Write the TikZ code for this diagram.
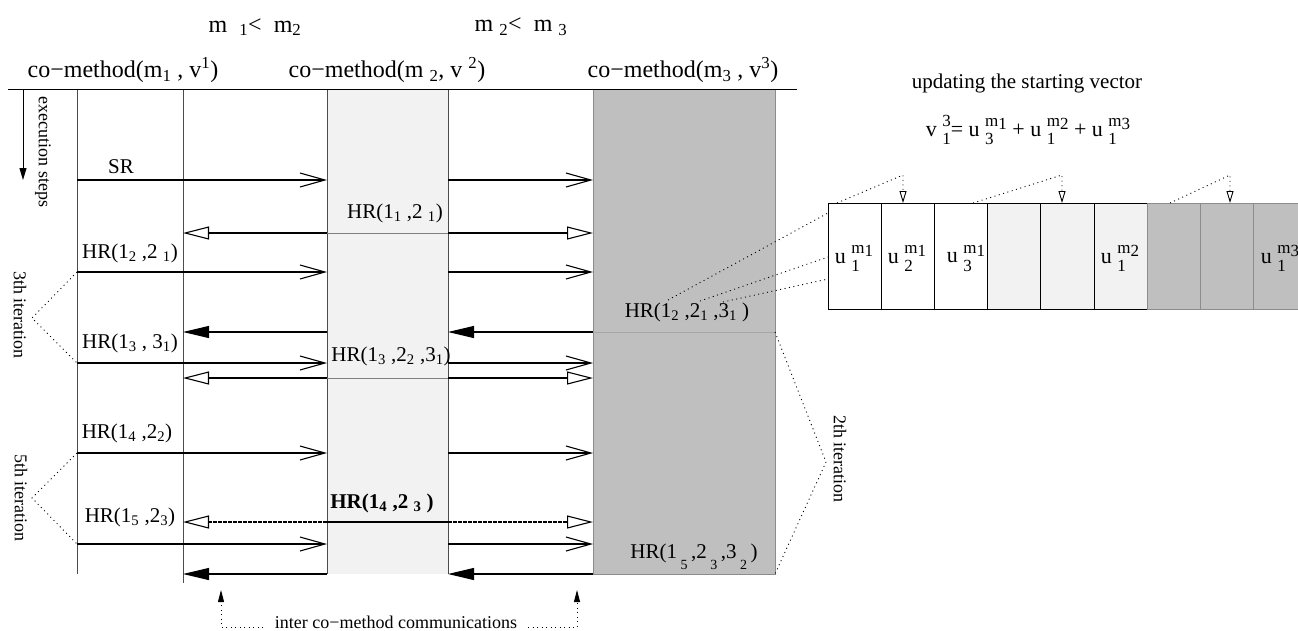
\documentclass[tikz,border=0pt]{standalone}
\usepackage{fontspec}
\setmainfont{Liberation Serif}
\usetikzlibrary{arrows.meta}
\newcommand{\lw}[1]{\textsubscript{#1}}
\newcommand{\hg}[1]{\textsuperscript{#1}}
\newcommand{\sml}{\fontsize{14}{14}\selectfont}
\newcommand{\smc}{\fontsize{17}{17}\selectfont}
\newcommand{\us}[2]{\ \rlap{\raisebox{-0.8ex}{\smc #1}}\raisebox{0.95ex}{\smc #2}}
\newcommand{\mi}[1]{m\raisebox{-0.35ex}{#1}}
\newcommand{\dlw}[1]{\,\raisebox{-1.1ex}{\sml #1}\,}

\begin{document}
\begin{tikzpicture}[x=1pt, y=-1pt,
    lbl/.style = {font=\fontsize{21}{24}\selectfont, inner sep=0pt},
    hdr/.style = {font=\fontsize{24}{27}\selectfont, inner sep=0pt},
    cel/.style = {font=\fontsize{22}{25}\selectfont, inner sep=0pt},
    note/.style = {font=\fontsize{18}{21}\selectfont, inner sep=0pt},
    grid/.style = {draw=black!70, line width=0.8pt},
    barb/.style = {-{Straight Barb[length=25pt, width=14pt]}, line width=1.1pt},
    opn/.style = {-{Triangle[open, length=26pt, width=13pt]}, line width=1.1pt},
    ful/.style = {-{Triangle[length=26pt, width=12pt]}, line width=1.1pt},
    dots/.style = {dash pattern=on 1pt off 3.5pt, line width=0.9pt}]
    \useasboundingbox (0,0) rectangle (1298,630);
    \def\xa{77} \def\xb{183} \def\xc{327} \def\xd{448} \def\xe{593} \def\xf{775}
    \def\yt{89} \def\yb{574}

    \fill[gray!10] (\xc,\yt) rectangle (\xd,\yb);
    \fill[gray!50] (\xe,\yt) rectangle (\xf,\yb);
    \draw[draw=gray!90] (\xe,\yt) rectangle (\xf,\yb);
    \draw[grid] (\xa,\yt) -- (\xa,\yb);
    \draw[grid] (\xb,\yt) -- (\xb,583);
    \draw[grid] (\xc,\yt) -- (\xc,\yb);
    \draw[grid] (\xd,\yt) -- (\xd,\yb);
    \draw[line width=0.9pt] (8,\yt) -- (797,\yt);
    \draw[gray] (\xc,233) -- (\xd,233);
    \draw[gray] (\xc,378) -- (\xd,378);
    \draw[gray!70] (\xe,332) -- (\xf,332);

    \node[hdr] (lt1) at (255,27) {m\ \ \lw{1}<\ \ m\lw{2}};
    \node[hdr] (lt2) at (521,27) {m\ \lw{2}<\ \ m\ \lw{3}};
    \node[hdr] (cm1) at (123,70) {co−method(m\lw{1} , v\hg{1})};
    \node[hdr] (cm2) at (387,70) {co−method(m\ \lw{2}, v\ \hg{2})};
    \node[hdr] (cm3) at (683,70) {co−method(m\lw{3} , v\hg{3})};

    \draw[-{Triangle[length=12pt, width=7pt]}, line width=1pt] (23,90) -- (23,180);
    \node[note, rotate=-90] (exec) at (43,152) {execution steps};

    \draw[barb] (\xa,180) -- (\xc,180); \draw[barb] (\xd,180) -- (\xe,180);
    \draw[opn] (\xc,233) -- (\xb,233); \draw[opn] (\xd,233) -- (\xe,233);
    \draw[barb] (\xa,272) -- (\xc,272); \draw[barb] (\xd,272) -- (\xe,272);
    \draw[ful] (\xc,332) -- (\xb,332); \draw[ful] (\xe,332) -- (\xd,332);
    \draw[barb] (\xa,363) -- (\xc,363); \draw[barb] (\xd,363) -- (\xe,363);
    \draw[opn] (\xc,378) -- (\xb,378); \draw[opn] (\xd,378) -- (\xe,378);
    \draw[barb] (\xa,453) -- (\xc,453); \draw[barb] (\xd,453) -- (\xe,453);
    \draw[opn, dash pattern=on 4pt off 1pt] (\xc,522) -- (\xb,522);
    \draw[line width=1.1pt] (\xc,522) -- (\xd,522);
    \draw[opn, dash pattern=on 4pt off 1pt] (\xd,522) -- (\xe,522);
    \draw[barb] (\xa,544) -- (\xc,544); \draw[barb] (\xd,544) -- (\xe,544);
    \draw[ful] (\xc,\yb) -- (\xb,\yb); \draw[ful] (\xe,\yb) -- (\xd,\yb);

    \node[lbl] (sr) at (121,167) {SR};
    \node[lbl] (hr1) at (395,213) {HR(1\lw{1} ,2\ \lw{1})};
    \node[lbl] (hr2) at (130,253) {HR(1\lw{2} ,2\ \lw{1})};
    \node[lbl] (hr3) at (687,312) {HR(1\lw{2} ,2\lw{1} ,3\lw{1} )};
    \node[lbl] (hr4) at (130,343) {HR(1\lw{3} , 3\lw{1})};
    \node[lbl] (hr5) at (391,356) {HR(1\lw{3} ,2\lw{2} ,3\lw{1})};
    \node[lbl] (hr6) at (127,433) {HR(1\lw{4} ,2\lw{2})};
    \node[lbl] (hr7) at (382,503) {\textbf{HR(1\lw{4} ,2\ \lw{3} )}};
    \node[lbl] (hr8) at (130,517) {HR(1\lw{5} ,2\lw{3})};
    \node[lbl] (hr9) at (694,557) {HR(1\dlw{5},2\dlw{3},3\dlw{2})};

    \draw[dots] (\xa,272) -- (32,318) -- (\xa,363);
    \node[note, rotate=-90] (it3) at (20,315) {3th iteration};
    \draw[dots] (\xa,453) -- (32,498) -- (\xa,544);
    \node[note, rotate=-90] (it5) at (21,498) {5th iteration};
    \draw[dots] (\xf,332) -- (826,462) -- (\xf,\yb);
    \node[note, rotate=-90] (it2) at (840,459) {2th iteration};

    \node[note] (comm) at (396,622) {inter co−method communications};
    \draw[dots, -{Triangle[length=12pt, width=6pt]}] (263,627) -- (221,627) -- (221,590);
    \draw[dots, -{Triangle[length=12pt, width=6pt]}] (528,627) -- (577,627) -- (577,590);

    \node[lbl] (upd) at (1027,83) {updating the starting vector};
    \node[cel] (frm) at (1028,130) {v\us{1}{3}= u\us{3}{\mi{1}}\ + u\us{1}{\mi{2}}\ + u\us{1}{\mi{3}}};

    \fill[gray!10] (987.6,203) rectangle (1147.2,309);
    \fill[gray!50] (1147.2,203) rectangle (1306.8,309);
    \draw[line width=0.9pt] (828,203) rectangle (1147.2,309);
    \draw[line width=0.9pt] (881.2,203) -- (881.2,309);
    \draw[line width=0.9pt] (934.4,203) -- (934.4,309);
    \draw[line width=0.9pt] (987.6,203) -- (987.6,309);
    \draw[line width=0.9pt] (1040.8,203) -- (1040.8,309);
    \draw[line width=0.9pt] (1094,203) -- (1094,309);
    \draw[gray!90, line width=0.9pt] (1147.2,203) rectangle (1306.8,309);
    \draw[gray!90, line width=0.9pt] (1200.4,203) -- (1200.4,309);
    \draw[gray!90, line width=0.9pt] (1253.6,203) -- (1253.6,309);

    \node[cel] (c1) at (854,258) {u\us{1}{\mi{1}}};
    \node[cel] (c2) at (907,258) {u\us{2}{\mi{1}}};
    \node[cel] (c3) at (966,258) {u\us{3}{\mi{1}}};
    \node[cel] (c6) at (1120,258) {u\us{1}{\mi{2}}};
    \node[cel] (c9) at (1280,258) {u\us{1}{\mi{3}}};

    \draw[dots, -{Triangle[open, length=12pt, width=7pt]}] (837,203) -- (903,175) -- (903,203);
    \draw[dots, -{Triangle[open, length=12pt, width=7pt]}] (973,203) -- (1062,175) -- (1062,203);
    \draw[dots, -{Triangle[open, length=12pt, width=7pt]}] (1170,203) -- (1230,175) -- (1230,203);
    \draw[dots] (668,300) -- (828,213);
    \draw[dots] (700,301) -- (828,257);
    \draw[dots] (723,302) -- (828,279);
\end{tikzpicture}
\end{document}
